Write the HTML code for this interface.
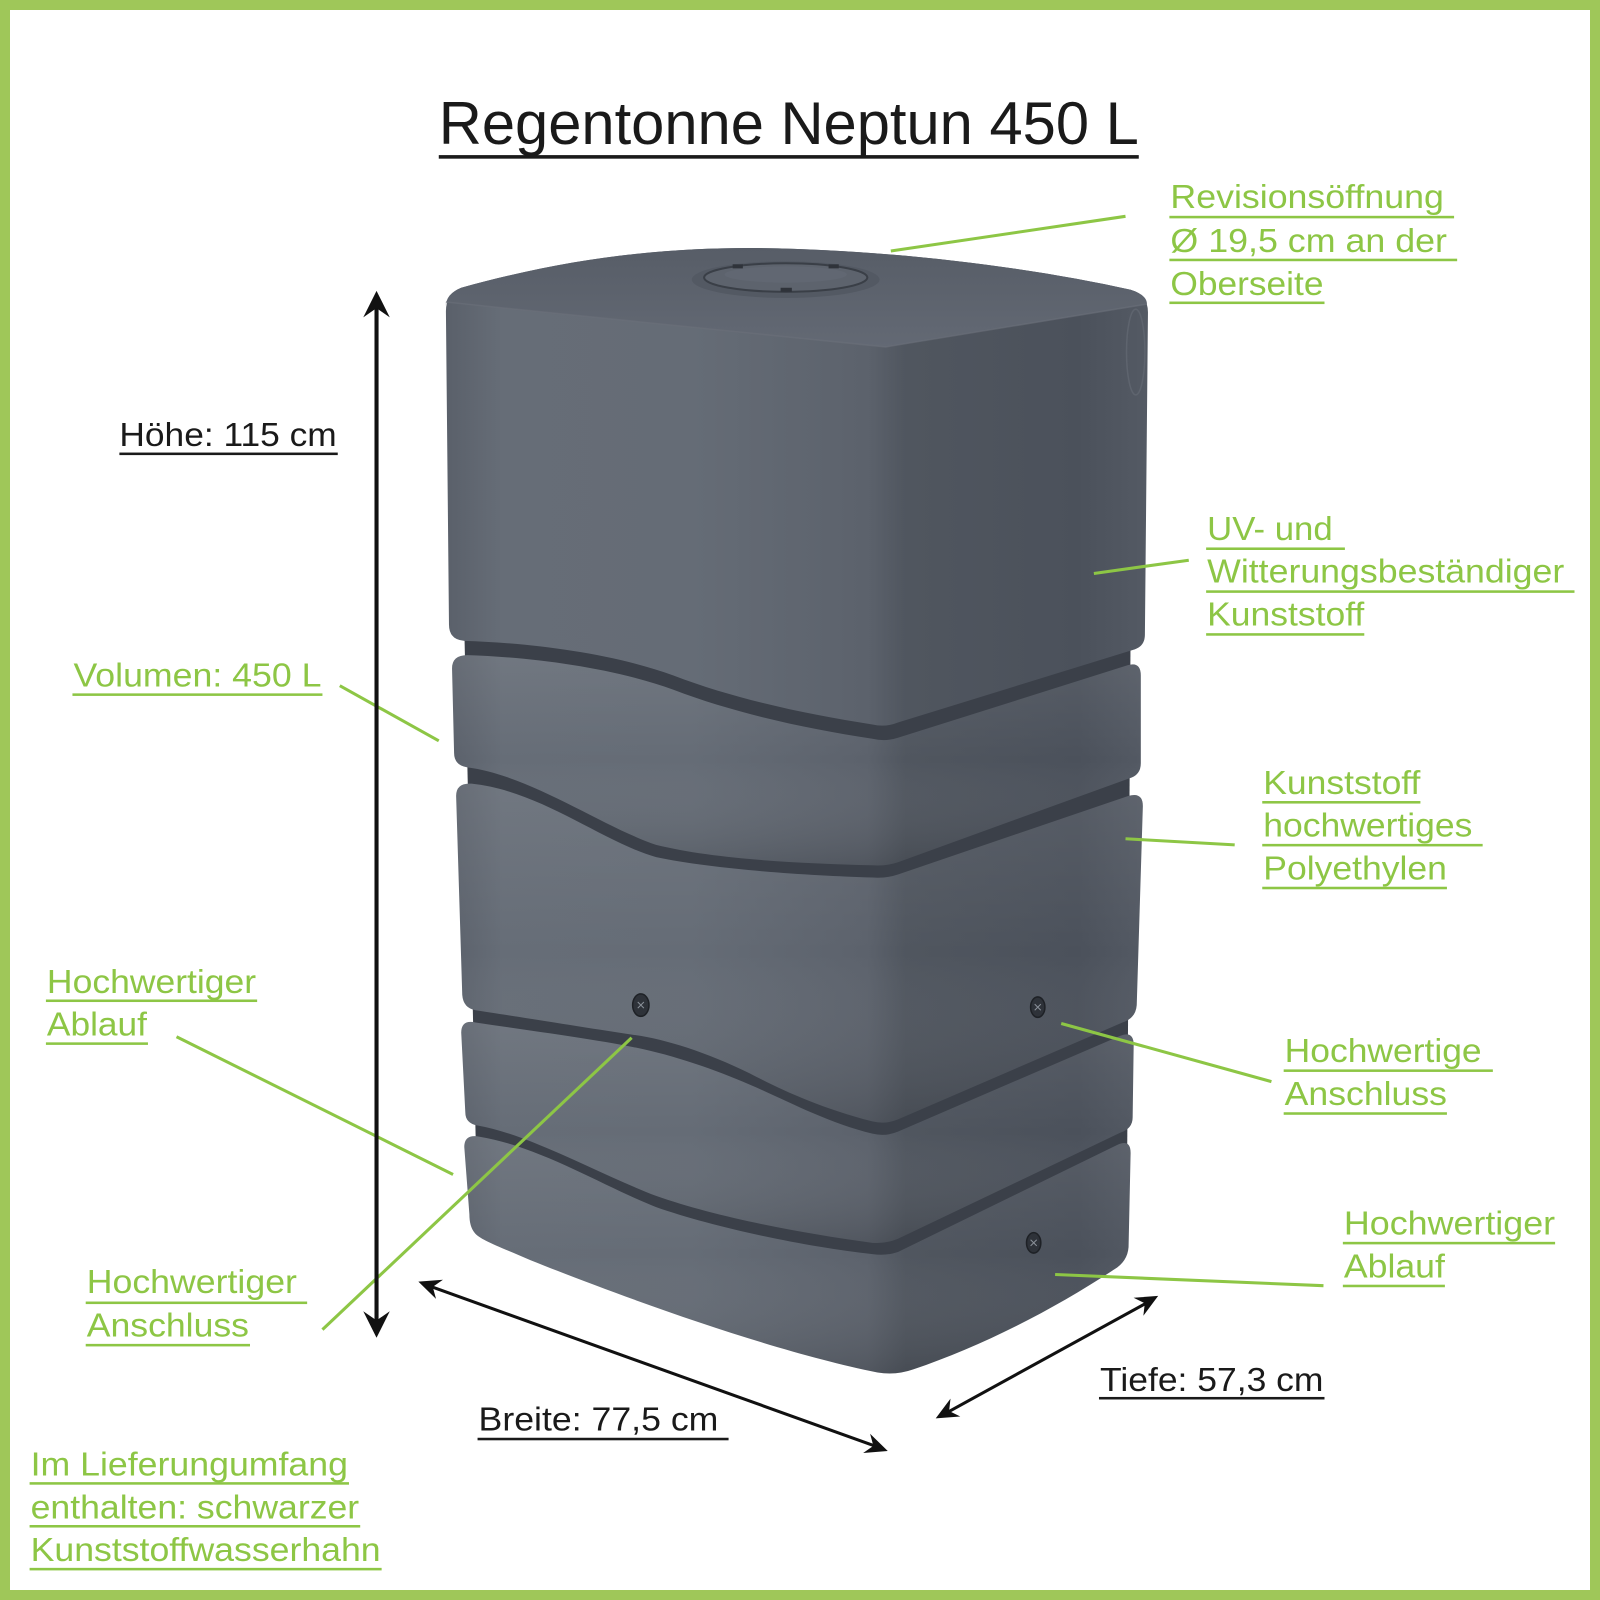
<!DOCTYPE html>
<html><head><meta charset="utf-8"><style>
html,body{margin:0;padding:0;background:#fff;}
svg{display:block;}
text{font-family:"Liberation Sans",Arial,sans-serif;}
</style></head><body>
<svg width="1600" height="1600" viewBox="0 0 1568 1568" xmlns="http://www.w3.org/2000/svg">
<defs>
<linearGradient id="hg" gradientUnits="userSpaceOnUse" x1="437" y1="0" x2="1125" y2="0">
<stop offset="0" stop-color="#5a606a"/>
<stop offset="0.08" stop-color="#666d77"/>
<stop offset="0.35" stop-color="#656c76"/>
<stop offset="0.6" stop-color="#5c626c"/>
<stop offset="0.655" stop-color="#50565f"/>
<stop offset="0.9" stop-color="#4b515b"/>
<stop offset="1" stop-color="#545a64"/>
</linearGradient>
<linearGradient id="vg" x1="0" y1="0" x2="0" y2="1">
<stop offset="0" stop-color="#ffffff" stop-opacity="0.07"/>
<stop offset="0.5" stop-color="#ffffff" stop-opacity="0"/>
<stop offset="1" stop-color="#000000" stop-opacity="0.12"/>
</linearGradient>
<linearGradient id="tg" x1="0" y1="0" x2="0" y2="1">
<stop offset="0" stop-color="#575d67"/>
<stop offset="1" stop-color="#636974"/>
</linearGradient>
</defs>

<!-- border -->
<rect x="0" y="0" width="1568" height="1568" fill="#9fc759"/>
<rect x="9.8" y="9.8" width="1548.4" height="1548.4" fill="#ffffff"/>

<!-- title -->
<text x="430" y="141" font-size="59" fill="#1a1a1a" textLength="686" lengthAdjust="spacingAndGlyphs">Regentonne Neptun 450 L</text>
<rect x="430" y="152" width="686" height="3.5" fill="#1a1a1a"/>

<!-- tank silhouette (grooves) -->
<path d="M455,615 L1108,615 L1104,1230 L878,1330 L468,1198 Z" fill="#3b4049"/>

<!-- base B4 -->
<path d="M455,1124 Q455,1111 470,1114 C530,1124 590,1162 643,1183 C700,1203 790,1222 855,1229 Q868,1231 880,1227 L1095,1122 Q1108,1116 1108,1130 L1106,1222 Q1105,1236 1092,1244 C1030,1285 960,1320 895,1342 Q878,1348 860,1345 C760,1325 620,1275 520,1235 C490,1222 470,1215 465,1208 Q460,1202 460,1190 Z" fill="url(#hg)"/>
<path d="M455,1124 Q455,1111 470,1114 C530,1124 590,1162 643,1183 C700,1203 790,1222 855,1229 Q868,1231 880,1227 L1095,1122 Q1108,1116 1108,1130 L1106,1222 Q1105,1236 1092,1244 C1030,1285 960,1320 895,1342 Q878,1348 860,1345 C760,1325 620,1275 520,1235 C490,1222 470,1215 465,1208 Q460,1202 460,1190 Z" fill="url(#vg)"/>

<!-- B3 -->
<path d="M452,1012 Q452,999 466,1002 C520,1010 580,1018 620,1026 C660,1034 700,1048 735,1063 C770,1078 810,1100 855,1111 Q868,1114 880,1109 L1098,1015 Q1111,1010 1111,1024 L1110,1095 Q1110,1106 1098,1110 L880,1214 Q868,1219 855,1218 C780,1208 700,1192 643,1172 C590,1152 520,1112 468,1103 Q456,1101 456,1090 Z" fill="url(#hg)"/>
<path d="M452,1012 Q452,999 466,1002 C520,1010 580,1018 620,1026 C660,1034 700,1048 735,1063 C770,1078 810,1100 855,1111 Q868,1114 880,1109 L1098,1015 Q1111,1010 1111,1024 L1110,1095 Q1110,1106 1098,1110 L880,1214 Q868,1219 855,1218 C780,1208 700,1192 643,1172 C590,1152 520,1112 468,1103 Q456,1101 456,1090 Z" fill="url(#vg)"/>

<!-- B2 -->
<path d="M447,780 Q447,767 462,768 C530,775 590,825 643,840 C700,852 790,858 855,860 Q868,861 880,857 L1106,780 Q1120,776 1120,790 L1114,985 Q1113,998 1100,1002 L880,1097 Q868,1102 855,1099 C800,1085 760,1065 735,1052 C690,1030 650,1018 620,1014 C560,1005 500,995 466,990 Q454,988 453,975 Z" fill="url(#hg)"/>
<path d="M447,780 Q447,767 462,768 C530,775 590,825 643,840 C700,852 790,858 855,860 Q868,861 880,857 L1106,780 Q1120,776 1120,790 L1114,985 Q1113,998 1100,1002 L880,1097 Q868,1102 855,1099 C800,1085 760,1065 735,1052 C690,1030 650,1018 620,1014 C560,1005 500,995 466,990 Q454,988 453,975 Z" fill="url(#vg)"/>

<!-- B1 -->
<path d="M443,655 Q443,642 458,642 C520,644 600,654 660,676 C720,699 790,714 855,724 Q868,727 880,723 L1105,652 Q1118,648 1118,662 L1118,748 Q1118,760 1106,763 L880,845 Q868,849 855,848 C780,846 700,842 643,828 C590,810 520,760 458,752 Q445,750 445,738 Z" fill="url(#hg)"/>
<path d="M443,655 Q443,642 458,642 C520,644 600,654 660,676 C720,699 790,714 855,724 Q868,727 880,723 L1105,652 Q1118,648 1118,662 L1118,748 Q1118,760 1106,763 L880,845 Q868,849 855,848 C780,846 700,842 643,828 C590,810 520,760 458,752 Q445,750 445,738 Z" fill="url(#vg)"/>

<!-- top block -->
<path d="M437,305 Q437,288 452,282 C560,252 650,243 735,243 C870,244 1010,262 1108,284 Q1125,289 1125,306 L1122,622 Q1122,634 1110,637 L880,708 Q868,713 855,710 C790,700 720,685 660,662 C600,640 520,630 455,628 Q440,627 440,612 Z" fill="url(#hg)"/>
<!-- top surface -->
<path d="M437,300 Q437,288 452,282 C560,252 650,243 735,243 C870,244 1010,262 1108,284 Q1124,289 1124,298 L868,340 L437,296 Z" fill="url(#tg)"/>
<path d="M437,296 L868,340 L1124,298" fill="none" stroke="#6a707a" stroke-width="1.5" opacity="0.6"/>
<!-- right side oval -->
<ellipse cx="1113" cy="345" rx="9" ry="42" fill="none" stroke="#5e646e" stroke-width="1.5"/>

<!-- lid -->
<ellipse cx="770" cy="274" rx="92" ry="18" fill="#535963"/>
<ellipse cx="770" cy="272" rx="80" ry="14" fill="#5d636d" stroke="#3a3f47" stroke-width="2"/>
<ellipse cx="770" cy="269" rx="60" ry="8" fill="#616772"/>
<rect x="718" y="259" width="10" height="4" fill="#2f333a"/>
<rect x="812" y="259" width="10" height="4" fill="#2f333a"/>
<rect x="765" y="282" width="11" height="4" fill="#2f333a"/>

<!-- screws -->
<g fill="#2e3239" stroke="#1e2126" stroke-width="1.5">
<ellipse cx="628" cy="985" rx="8" ry="11"/>
<ellipse cx="1017" cy="987" rx="7" ry="10"/>
<ellipse cx="1013" cy="1218" rx="7" ry="10"/>
</g>
<g stroke="#8a9099" stroke-width="1">
<path d="M625,982 L631,988 M631,982 L625,988"/>
<path d="M1014,984 L1020,990 M1020,984 L1014,990"/>
<path d="M1010,1215 L1016,1221 M1016,1215 L1010,1221"/>
</g>

<!-- green connector lines -->
<g stroke="#8dc645" stroke-width="3" fill="none">
<line x1="1103" y1="212" x2="873" y2="246"/>
<line x1="1165" y1="549" x2="1072" y2="562"/>
<line x1="333" y1="672" x2="430" y2="726"/>
<line x1="1210" y1="828" x2="1103" y2="822"/>
<line x1="173" y1="1016" x2="444" y2="1151"/>
<line x1="1246" y1="1060" x2="1040" y2="1003"/>
<line x1="316" y1="1303" x2="619" y2="1017"/>
<line x1="1297" y1="1260" x2="1034" y2="1249"/>
</g>

<!-- black dimension arrows -->
<g stroke="#111" fill="none">
<line x1="369" y1="300" x2="369" y2="1296" stroke-width="4"/>
<line x1="420" y1="1260" x2="860" y2="1418" stroke-width="3"/>
<line x1="925" y1="1386" x2="1127" y2="1275" stroke-width="3"/>
</g>
<g fill="#111">
<polygon points="369,285 356,311 369,302 382,311"/>
<polygon points="369,1311 356,1285 369,1294 382,1285"/>
<polygon points="410,1256 427.3,1272.9 424.1,1261.1 434.1,1254.1"/>
<polygon points="870,1422 845.9,1423.9 855.9,1416.9 852.7,1405.1"/>
<polygon points="1135,1270 1120.5,1289.4 1121.9,1277.2 1110.9,1271.8"/>
<polygon points="917,1390 941.1,1388.2 930.1,1382.8 931.5,1370.6"/>
</g>

<!-- black labels -->
<g fill="#1a1a1a" font-size="33">
<text x="117" y="437" textLength="213" lengthAdjust="spacingAndGlyphs">Höhe: 115 cm</text>
<text x="469" y="1402" textLength="235" lengthAdjust="spacingAndGlyphs">Breite: 77,5 cm</text>
<text x="1078" y="1363" textLength="219" lengthAdjust="spacingAndGlyphs">Tiefe: 57,3 cm</text>
</g>
<g fill="#1a1a1a">
<rect x="117" y="443.5" width="214" height="2.5"/>
<rect x="468" y="1409" width="246" height="2.5"/>
<rect x="1077" y="1369" width="221" height="2.5"/>
</g>

<!-- green labels -->
<g fill="#8dc645" font-size="33">
<text x="1147" y="204" textLength="268" lengthAdjust="spacingAndGlyphs">Revisionsöffnung</text>
<text x="1147" y="247" textLength="271" lengthAdjust="spacingAndGlyphs">Ø 19,5 cm an der</text>
<text x="1147" y="289" textLength="150" lengthAdjust="spacingAndGlyphs">Oberseite</text>

<text x="1183" y="529" textLength="123" lengthAdjust="spacingAndGlyphs">UV- und</text>
<text x="1183" y="571" textLength="350" lengthAdjust="spacingAndGlyphs">Witterungsbeständiger</text>
<text x="1183" y="613" textLength="154" lengthAdjust="spacingAndGlyphs">Kunststoff</text>

<text x="1238" y="778" textLength="154" lengthAdjust="spacingAndGlyphs">Kunststoff</text>
<text x="1238" y="820" textLength="205" lengthAdjust="spacingAndGlyphs">hochwertiges</text>
<text x="1238" y="862" textLength="180" lengthAdjust="spacingAndGlyphs">Polyethylen</text>

<text x="1259" y="1041" textLength="193" lengthAdjust="spacingAndGlyphs">Hochwertige</text>
<text x="1259" y="1083" textLength="159" lengthAdjust="spacingAndGlyphs">Anschluss</text>

<text x="1317" y="1210" textLength="207" lengthAdjust="spacingAndGlyphs">Hochwertiger</text>
<text x="1317" y="1252" textLength="99" lengthAdjust="spacingAndGlyphs">Ablauf</text>

<text x="72" y="673" textLength="243" lengthAdjust="spacingAndGlyphs">Volumen: 450 L</text>

<text x="46" y="973" textLength="205" lengthAdjust="spacingAndGlyphs">Hochwertiger</text>
<text x="46" y="1015" textLength="98" lengthAdjust="spacingAndGlyphs">Ablauf</text>

<text x="85" y="1267" textLength="206" lengthAdjust="spacingAndGlyphs">Hochwertiger</text>
<text x="85" y="1310" textLength="159" lengthAdjust="spacingAndGlyphs">Anschluss</text>

<text x="30" y="1446" textLength="311" lengthAdjust="spacingAndGlyphs">Im Lieferungumfang</text>
<text x="30" y="1488" textLength="322" lengthAdjust="spacingAndGlyphs">enthalten: schwarzer</text>
<text x="30" y="1530" textLength="343" lengthAdjust="spacingAndGlyphs">Kunststoffwasserhahn</text>
</g>
<g fill="#8dc645">
<rect x="1146" y="211.5" width="279" height="2.5"/>
<rect x="1146" y="253.5" width="282" height="2.5"/>
<rect x="1146" y="295.5" width="152" height="2.5"/>

<rect x="1182" y="536.5" width="136" height="2.5"/>
<rect x="1182" y="578.5" width="361" height="2.5"/>
<rect x="1182" y="620.5" width="155" height="2.5"/>

<rect x="1237" y="785" width="155" height="2.5"/>
<rect x="1237" y="827" width="216" height="2.5"/>
<rect x="1237" y="869" width="181" height="2.5"/>

<rect x="1258" y="1048" width="205" height="2.5"/>
<rect x="1258" y="1090" width="160" height="2.5"/>

<rect x="1316" y="1217" width="208" height="2.5"/>
<rect x="1316" y="1259" width="100" height="2.5"/>

<rect x="71" y="679.5" width="245" height="2.5"/>

<rect x="45" y="979.5" width="207" height="2.5"/>
<rect x="45" y="1021.5" width="100" height="2.5"/>

<rect x="84" y="1275.5" width="217" height="2.5"/>
<rect x="84" y="1317" width="161" height="2.5"/>

<rect x="29" y="1452.5" width="313" height="2.5"/>
<rect x="29" y="1494.5" width="324" height="2.5"/>
<rect x="29" y="1536.5" width="345" height="2.5"/>
</g>
</svg>
</body></html>
